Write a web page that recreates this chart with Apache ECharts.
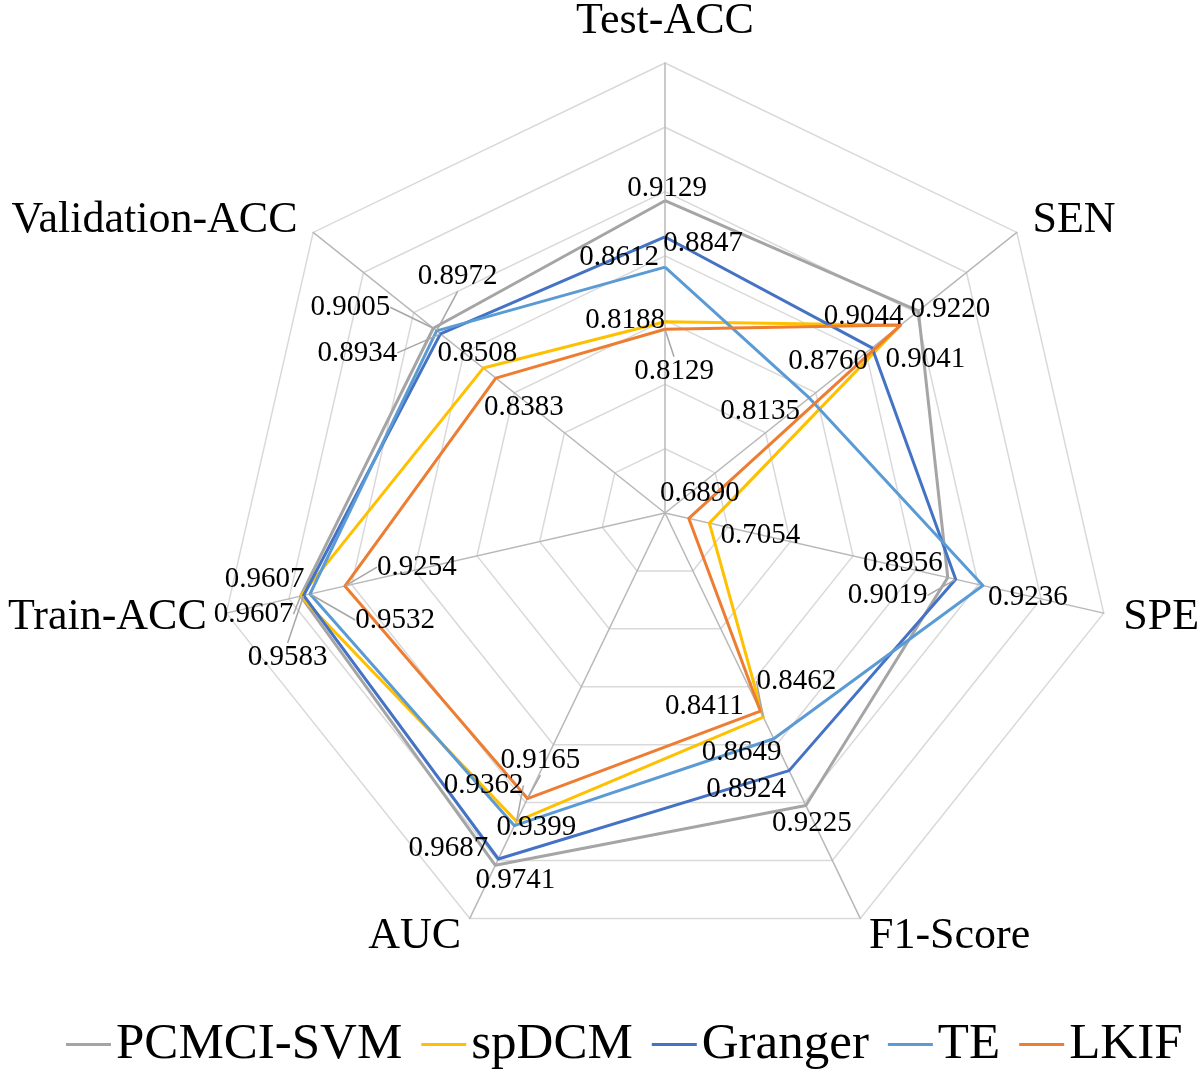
<!DOCTYPE html>
<html><head><meta charset="utf-8">
<script src="https://cdn.jsdelivr.net/npm/echarts@6/dist/echarts.min.js"></script>
<style>html,body{margin:0;padding:0;background:#fff}#c{width:1202px;height:1072px}</style>
</head><body><div id="c"></div>
<script>
// Indicators in clockwise order starting from the top
const indicators = ['Test-ACC', 'SEN', 'SPE', 'F1-Score', 'AUC', 'Train-ACC', 'Validation-ACC'];
const seriesNames = ['PCMCI-SVM', 'spDCM', 'Granger', 'TE', 'LKIF'];
const pcmciSvm = [0.9129, 0.9220, 0.8956, 0.9225, 0.9741, 0.9607, 0.9005];
const spDCM    = [0.8188, 0.9041, 0.7054, 0.8462, 0.9362, 0.9607, 0.8508];
const granger  = [0.8847, 0.8760, 0.9019, 0.8924, 0.9687, 0.9583, 0.8934];
const te       = [0.8612, 0.8135, 0.9236, 0.8649, 0.9399, 0.9532, 0.8972];
const lkif     = [0.8129, 0.9044, 0.6890, 0.8411, 0.9165, 0.9254, 0.8383];
const axisMin = 0.67, axisMax = 1.02, splitNumber = 7;

const seriesValues = [pcmciSvm, spDCM, granger, te, lkif];
const colors = ['#a5a5a5', '#ffc000', '#4472c4', '#5b9bd5', '#ed7d31'];

// label placement (style only): offset of each value label from its vertex
const labelOffsets = [
  [[2,-12],[32,-2],[-45,-14],[6,18],[20,15],[-47,18],[-83,-21]],
  [[-40,-1],[25,34],[51,12],[33,-36],[-33,-36],[-36,-17],[-6,-15]],
  [[38,6],[-44,14],[-68,16],[-43,19],[-50,-11],[-16,62],[-83,19]],
  [[-46,-10],[-49,13],[45,12],[-32,14],[22,2],[85,26],[21,-54]],
  [[9,42],[-37,-9],[11,-25],[-56,-5],[13,-38],[72,-19],[28,29]]
];
const leaderLines = [
  [0,0,0,0,0,1,1],
  [0,0,0,1,1,0,0],
  [0,0,1,0,0,1,1],
  [0,0,0,0,0,1,1],
  [1,0,0,0,1,1,0]
];

const FONT = '"Liberation Serif","Times New Roman",serif';
const CENTER = [665, 513], RADIUS = 450;
// ECharts radar places indicators counter-clockwise; reorder to get clockwise layout
const radarOrder = [0, 6, 5, 4, 3, 2, 1];

const chart = echarts.init(document.getElementById('c'));
const hidden = {axisLine:{show:false}, axisTick:{show:false}, axisLabel:{show:false}, splitLine:{show:false}};

const option = {
  animation: false,
  backgroundColor: '#fff',
  legend: {
    data: seriesNames,
    left: 66, top: 1019,
    icon: 'rect', itemWidth: 45, itemHeight: 3, itemGap: 19,
    textStyle: {fontSize: 51, fontFamily: FONT, color: '#000'},
    padding: 0
  },
  radar: {
    center: CENTER, radius: RADIUS, startAngle: 90, splitNumber: splitNumber, shape: 'polygon',
    indicator: radarOrder.map(i => ({name: indicators[i], min: axisMin, max: axisMax})),
    axisName: {color: '#000', fontSize: 44, fontFamily: FONT},
    nameGap: 20,
    splitLine: {lineStyle: {color: '#d9d9d9', width: 1.5}},
    splitArea: {show: false},
    axisLine: {lineStyle: {color: '#b8b8b8', width: 1.5}}
  },
  polar: {center: CENTER, radius: RADIUS},
  angleAxis: Object.assign({type: 'category', data: indicators, startAngle: 90, clockwise: true, boundaryGap: false}, hidden),
  radiusAxis: Object.assign({type: 'value', min: axisMin, max: axisMax}, hidden),
  series: [
    {
      type: 'radar',
      symbol: 'none',
      z: 3,
      data: seriesNames.map((nm, s) => ({
        name: nm,
        value: radarOrder.map(i => seriesValues[s][i]),
        itemStyle: {color: colors[s]},
        lineStyle: {color: colors[s], width: 3}
      }))
    }
  ].concat(seriesNames.map((nm, s) => ({
    type: 'scatter', coordinateSystem: 'polar', name: nm + ' values', z: 6, silent: true,
    symbol: 'circle', symbolSize: 1, itemStyle: {color: 'rgba(0,0,0,0)'},
    data: seriesValues[s].map((v, i) => ({value: [v, i], labelLine: {show: !!leaderLines[s][i]}})),
    label: {show: true, position: 'inside', formatter: p => p.value[0].toFixed(4),
      fontSize: 29, fontFamily: FONT, color: '#000', textBorderWidth: 0, textBorderColor: 'transparent', opacity: 1},
    labelLine: {show: false, lineStyle: {color: '#a6a6a6', width: 1.5}},
    labelLayout: p => ({dx: labelOffsets[s][p.dataIndex][0], dy: labelOffsets[s][p.dataIndex][1]})
  })))
};
chart.setOption(option);
</script></body></html>
